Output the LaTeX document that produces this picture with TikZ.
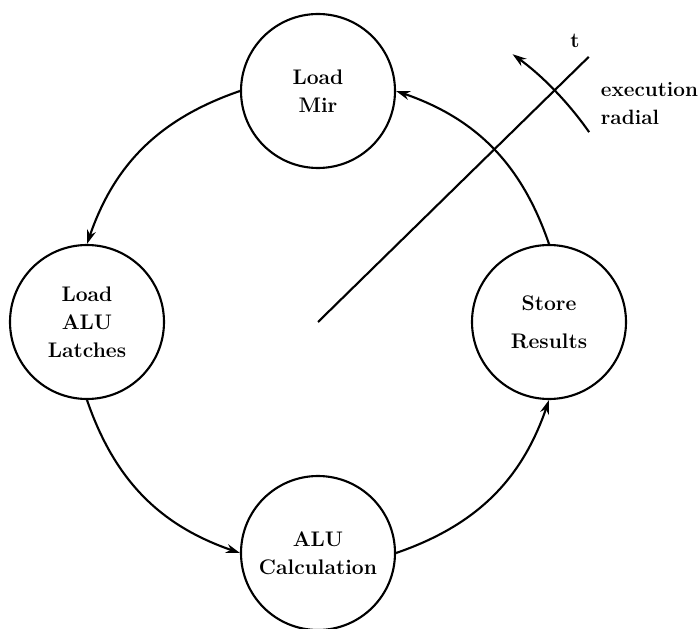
\documentclass[tikz,border=0pt]{standalone}
\usepackage{tikz}
\usetikzlibrary{arrows.meta}

\begin{document}
\begin{tikzpicture}[line width=1.2pt, >={Stealth[length=2.8mm,width=1.8mm]},
    stage/.style={circle, draw, minimum size=3.08cm, inner sep=0pt, align=center,
        font=\fontsize{12}{16}\selectfont\bfseries}]
    \useasboundingbox (-6.36,-6.12) rectangle (7.62,6.44);

    % Draw the stages
    \foreach \name/\ang/\txt in {mir/90/{Load\\Mir}, latch/180/{Load\\ALU\\Latches},
        calc/270/{ALU\\Calculation}, store/0/{Store\\[0.2cm]Results}} {
        \node[stage] (\name) at (\ang:4.62) {\txt};
    }

    % Arcs between the stages
    \foreach \a/\b in {mir.west/latch.north, latch.south/calc.west,
        calc.east/store.south, store.north/mir.east} {
        \draw[->] (\a) to[bend right=26] (\b);
    }

    % Execution radial
    \coordinate (c) at (0,0);
    \coordinate (r) at (44.4:7.58);
    \draw (c) -- (r);
    \node[font=\fontsize{12}{16}\selectfont\bfseries] (t) at (5.14,5.62) {t};
    \draw[->] (35:6.62) arc (35:54:6.62);
    \node[anchor=west, align=left, font=\fontsize{11.8}{15.5}\selectfont\bfseries]
        (lbl) at (5.52,4.37) {execution\\radial};
\end{tikzpicture}
\end{document}
